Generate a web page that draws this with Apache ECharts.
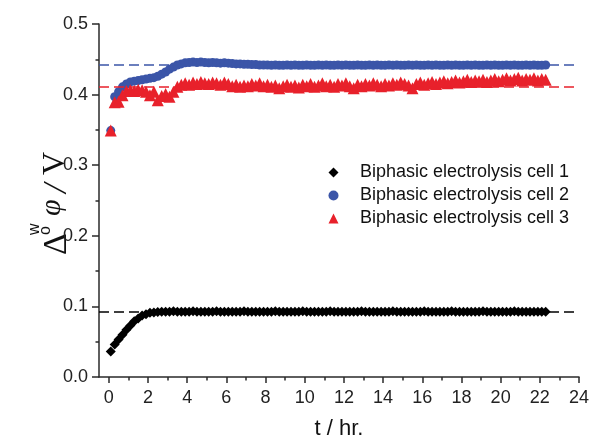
<!DOCTYPE html>
<html>
<head>
<meta charset="utf-8">
<script src="https://cdn.jsdelivr.net/npm/echarts@6/dist/echarts.min.js"></script>
<style>html,body{margin:0;padding:0;background:#fff}#c{width:589px;height:442px}</style>
</head>
<body>
<div id="c"></div>
<script>
const seriesNames = ['Biphasic electrolysis cell 1', 'Biphasic electrolysis cell 2', 'Biphasic electrolysis cell 3'];

const hours = [
0.1,0.3,0.5,0.7,0.9,1.1,1.3,1.5,1.7,1.9,
2.1,2.3,2.5,2.7,2.9,3.1,3.3,3.5,3.7,3.9,
4.1,4.3,4.5,4.7,4.9,5.1,5.3,5.5,5.7,5.9,
6.1,6.3,6.5,6.7,6.9,7.1,7.3,7.5,7.7,7.9,
8.1,8.3,8.5,8.7,8.9,9.1,9.3,9.5,9.7,9.9,
10.1,10.3,10.5,10.7,10.9,11.1,11.3,11.5,11.7,11.9,
12.1,12.3,12.5,12.7,12.9,13.1,13.3,13.5,13.7,13.9,
14.1,14.3,14.5,14.7,14.9,15.1,15.3,15.5,15.7,15.9,
16.1,16.3,16.5,16.7,16.9,17.1,17.3,17.5,17.7,17.9,
18.1,18.3,18.5,18.7,18.9,19.1,19.3,19.5,19.7,19.9,
20.1,20.3,20.5,20.7,20.9,21.1,21.3,21.5,21.7,21.9,
22.1,22.3
];

const cell1 = [
0.036,0.046,0.053,0.060,0.067,0.073,0.079,0.083,0.087,0.089,
0.091,0.0915,0.092,0.0925,0.0925,0.0925,0.093,0.0925,0.0925,0.0925,
0.0925,0.093,0.0925,0.0925,0.0925,0.0925,0.0925,0.093,0.0925,0.0925,
0.0925,0.0925,0.0925,0.0925,0.093,0.0925,0.0925,0.0925,0.0925,0.0925,
0.0925,0.0925,0.093,0.0925,0.0925,0.0925,0.0925,0.0925,0.0925,0.093,
0.0925,0.0925,0.0925,0.0925,0.0925,0.0925,0.093,0.0925,0.0925,0.0925,
0.0925,0.0925,0.0925,0.0925,0.093,0.0925,0.0925,0.0925,0.0925,0.0925,
0.0925,0.0925,0.093,0.0925,0.0925,0.0925,0.0925,0.0925,0.0925,0.0925,
0.093,0.0925,0.0925,0.0925,0.0925,0.0925,0.0925,0.093,0.0925,0.0925,
0.0925,0.0925,0.0925,0.0925,0.0925,0.093,0.0925,0.0925,0.0925,0.0925,
0.0925,0.0925,0.0925,0.093,0.0925,0.0925,0.0925,0.0925,0.0925,0.0925,
0.0925,0.0925
];

const cell2 = [
0.349,0.397,0.404,0.411,0.415,0.418,0.419,0.420,0.421,0.422,
0.423,0.424,0.426,0.429,0.432,0.436,0.439,0.442,0.4435,0.445,
0.4455,0.446,0.4455,0.446,0.4455,0.445,0.4455,0.445,0.4445,0.445,
0.4445,0.444,0.4435,0.4435,0.443,0.443,0.4425,0.4425,0.442,0.442,
0.442,0.4415,0.442,0.4415,0.4415,0.442,0.4415,0.442,0.4415,0.4415,
0.442,0.4415,0.4415,0.442,0.4415,0.442,0.4415,0.4415,0.442,0.4415,
0.442,0.4415,0.4415,0.442,0.4415,0.4415,0.442,0.4415,0.442,0.4415,
0.4415,0.442,0.4415,0.442,0.4415,0.4415,0.442,0.4415,0.442,0.4415,
0.4415,0.442,0.4415,0.442,0.4415,0.4415,0.442,0.4415,0.442,0.4415,
0.4415,0.442,0.4415,0.442,0.4415,0.4415,0.442,0.4415,0.442,0.4415,
0.4415,0.442,0.4415,0.442,0.4415,0.4415,0.442,0.4415,0.442,0.4415,
0.4415,0.442
];

const cell3 = [
0.349,0.389,0.390,0.399,0.405,0.406,0.405,0.407,0.406,0.404,
0.399,0.404,0.392,0.398,0.401,0.397,0.404,0.411,0.414,0.416,
0.414,0.417,0.415,0.418,0.416,0.415,0.417,0.416,0.414,0.417,
0.415,0.412,0.414,0.411,0.413,0.412,0.415,0.413,0.416,0.412,
0.414,0.411,0.413,0.409,0.412,0.414,0.411,0.413,0.410,0.414,
0.412,0.415,0.411,0.413,0.416,0.412,0.414,0.411,0.415,0.413,
0.416,0.412,0.409,0.414,0.412,0.415,0.413,0.416,0.414,0.412,
0.415,0.413,0.416,0.414,0.417,0.415,0.413,0.409,0.415,0.417,
0.414,0.416,0.418,0.415,0.417,0.419,0.416,0.418,0.420,0.417,
0.419,0.421,0.418,0.420,0.419,0.421,0.418,0.420,0.422,0.419,
0.421,0.423,0.420,0.422,0.424,0.420,0.422,0.421,0.423,0.420,
0.422,0.421
];

// steady-state reference levels (dashed lines)
const plateauLevels = [0.0925, 0.442, 0.411];
const plateauSpan = [-0.5, 23.8];

const xTicks = [0,2,4,6,8,10,12,14,16,18,20,22,24];
const xMinorTicks = [1,3,5,7,9,11,13,15,17,19,21,23];

[cell1, cell2, cell3].forEach((a, i) => {
  if (a.length !== hours.length) throw new Error('length mismatch cell' + (i + 1) + ': ' + a.length + ' vs ' + hours.length);
});

const colors = ['#000000', '#3b55a8', '#e8212b'];
const symbols = ['diamond', 'circle', 'triangle'];
const sizes = [10, 9, 12];
const cells = [cell1, cell2, cell3];

const axisColor = '#2a2a2a';
const fontSans = '"Liberation Sans", Arial, sans-serif';

const chart = echarts.init(document.getElementById('c'), null, {renderer: 'canvas'});

const series = cells.map((vals, i) => ({
  name: seriesNames[i],
  type: 'scatter',
  xAxisIndex: 0,
  yAxisIndex: 0,
  symbol: symbols[i],
  symbolSize: sizes[i],
  itemStyle: {color: colors[i], opacity: 1},
  data: hours.map((t, k) => [t, vals[k]]),
  z: 2 + i,
  animation: false,
  markLine: {
    silent: true,
    symbol: 'none',
    label: {show: false},
    animation: false,
    lineStyle: {color: colors[i], type: [10, 5], width: 1.6},
    data: [[{coord: [plateauSpan[0], plateauLevels[i]]}, {coord: [plateauSpan[1], plateauLevels[i]]}]]
  }
}));

const serif = '"Liberation Serif", "Times New Roman", serif';

chart.setOption({
  animation: false,
  backgroundColor: '#ffffff',
  grid: {left: 99, right: 10, top: 24, bottom: 65, containLabel: false, outerBoundsMode: 'none'},
  legend: {
    orient: 'vertical',
    left: 328.5,
    top: 163.5,
    padding: 0,
    itemGap: 5,
    itemWidth: 10,
    itemHeight: 10,
    symbolKeepAspect: true,
    data: seriesNames,
    textStyle: {fontSize: 18, fontFamily: fontSans, color: '#111', padding: [0, 0, 0, 16.5]}
  },
  xAxis: [{
    type: 'value',
    min: -0.5,
    max: 24,
    name: 't / hr.',
    nameLocation: 'middle',
    nameGap: 41,
    nameTextStyle: {fontSize: 22, fontFamily: fontSans, color: '#111'},
    axisLine: {show: true, onZero: false, lineStyle: {color: axisColor, width: 1.5}},
    axisTick: {show: true, inside: false, length: 6, customValues: xTicks, lineStyle: {color: axisColor, width: 1.5}},
    axisLabel: {show: true, customValues: xTicks, fontSize: 18, fontFamily: fontSans, color: '#222', margin: 12},
    splitLine: {show: false}
  }, {
    type: 'value',
    min: -0.5,
    max: 24,
    position: 'bottom',
    axisLine: {show: false},
    axisTick: {show: true, inside: false, length: 3.5, customValues: xMinorTicks, lineStyle: {color: axisColor, width: 1.5}},
    axisLabel: {show: false},
    splitLine: {show: false}
  }],
  yAxis: [{
    type: 'value',
    min: 0,
    max: 0.5,
    interval: 0.1,
    axisLine: {show: true, onZero: false, lineStyle: {color: axisColor, width: 1.5}},
    axisTick: {show: true, inside: false, length: 7, lineStyle: {color: axisColor, width: 1.5}},
    minorTick: {show: true, splitNumber: 2, length: 3.5, lineStyle: {color: axisColor, width: 1.5}},
    axisLabel: {fontSize: 18, fontFamily: fontSans, color: '#222', margin: 11, formatter: v => v.toFixed(1)},
    splitLine: {show: false}
  }],
  graphic: [{
    type: 'group',
    x: 40,
    y: 255,
    rotation: Math.PI / 2,
    silent: true,
    children: [
      {type: 'text', x: 0, y: 0, style: {text: 'Δ', font: '34px ' + serif, fill: '#111', textBaseline: 'alphabetic'}},
      {type: 'text', x: 20, y: -13, style: {text: 'w', font: '16px ' + fontSans, fill: '#111', textBaseline: 'alphabetic'}},
      {type: 'text', x: 20, y: -2, style: {text: 'o', font: '16px ' + fontSans, fill: '#111', textBaseline: 'alphabetic'}},
      {type: 'text', x: 39, y: -3, style: {text: 'φ', font: 'italic 30px ' + serif, fill: '#111', textBaseline: 'alphabetic'}},
      {type: 'text', x: 62, y: 0, style: {text: '/', font: 'italic 34px ' + serif, fill: '#111', textBaseline: 'alphabetic'}},
      {type: 'text', x: 80, y: 0, style: {text: 'V', font: '32px ' + serif, fill: '#111', textBaseline: 'alphabetic'}}
    ]
  }],
  series: series
});
</script>
</body>
</html>
